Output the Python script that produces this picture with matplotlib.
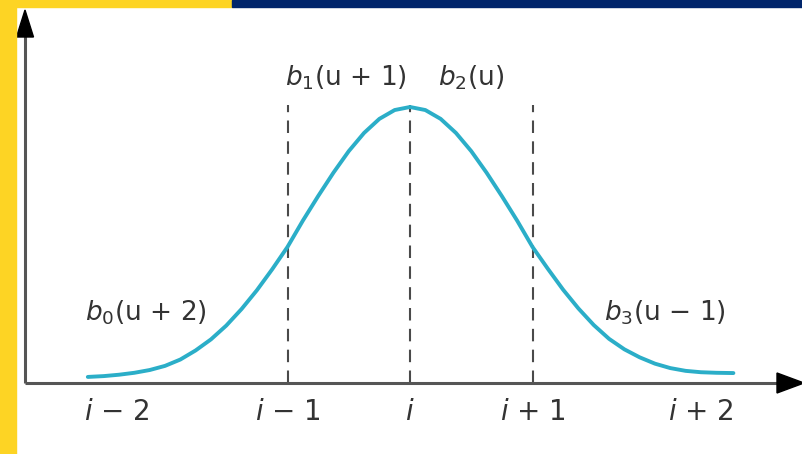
import matplotlib
matplotlib.use("Agg")
import matplotlib.pyplot as plt
from matplotlib.patches import Rectangle, Polygon

# Basis function sampled along the parameter axis (knot spacing = 1, peak = 1)
curve_x = [-2.63, -2.5, -2.375, -2.25, -2.125, -2.0, -1.875, -1.75, -1.625,
           -1.5, -1.375, -1.25, -1.125, -1.0, -0.875, -0.75, -0.625, -0.5,
           -0.375, -0.25, -0.125, 0.0, 0.125, 0.25, 0.375, 0.5, 0.625, 0.75,
           0.875, 1.0, 1.125, 1.25, 1.375, 1.5, 1.625, 1.75, 1.875, 2.0,
           2.125, 2.25, 2.375, 2.5, 2.64]
curve_y = [0.022, 0.025, 0.030, 0.037, 0.047, 0.062, 0.085, 0.118, 0.158,
           0.208, 0.268, 0.336, 0.412, 0.493, 0.588, 0.677, 0.762, 0.840,
           0.906, 0.957, 0.989, 1.000, 0.989, 0.957, 0.906, 0.840, 0.762,
           0.677, 0.588, 0.493, 0.414, 0.338, 0.270, 0.210, 0.160, 0.122,
           0.093, 0.070, 0.054, 0.044, 0.039, 0.037, 0.036]

# Knots drawn as dashed guides
knots = [-1.0, 0.0, 1.0]
guide_top = 1.007

# Axis labels
tick_pos = [-2.39, -1.0, 0.0, 1.0, 2.37]
tick_labels = [r"$i$ − 2", r"$i$ − 1", r"$i$", r"$i$ + 1", r"$i$ + 2"]

# Segment labels
seg_labels = [r"$b_0$(u + 2)", r"$b_1$(u + 1)", r"$b_2$(u)", r"$b_3$(u − 1)"]
seg_x = [-2.155, -0.52, 0.50, 2.08]
seg_y = [0.254, 1.105, 1.105, 0.254]

plt.rcParams["font.family"] = ["DejaVu Sans"]
plt.rcParams["mathtext.fontset"] = "dejavusans"

W, H = 802, 454
fig = plt.figure(figsize=(W / 100, H / 100), dpi=100)
fig.patch.set_facecolor("white")

# Frame decorations (in figure pixels, origin at top-left)
def px_rect(x0, y0, w, h, color):
    fig.patches.append(Rectangle((x0 / W, 1 - (y0 + h) / H), w / W, h / H,
                                 transform=fig.transFigure, color=color,
                                 zorder=10))

px_rect(0, 0, 16, H, "#FDD424")
px_rect(0, 0, 232, 7, "#FDD424")
px_rect(232, 0, W - 232, 7, "#00256B")

# Axes: y-axis at x=25px, x-axis at y=383px
ax_left, ax_right, ax_bottom, ax_top = 25, 802, 383, 10
ax = fig.add_axes([ax_left / W, 1 - ax_bottom / H,
                   (ax_right - ax_left) / W, (ax_bottom - ax_top) / H])
x0 = (ax_left - 410) / 122.5
x1 = (ax_right - 410) / 122.5
y1 = (ax_bottom - ax_top) / 276
ax.set_xlim(x0, x1)
ax.set_ylim(0, y1)
ax.set_facecolor("none")
for s in ax.spines.values():
    s.set_visible(False)
ax.set_yticks([])
ax.set_xticks(tick_pos)
ax.set_xticklabels(tick_labels, fontsize=20, color="#333333")
ax.tick_params(axis="x", length=0, pad=11)

# Axis lines
ax.plot([x0, x1 - 0.15], [0, 0], color="#555555", lw=2.2, clip_on=False,
        solid_capstyle="butt", zorder=2)
ax.plot([x0, x0], [0, y1 - 0.08], color="#555555", lw=2.2, clip_on=False,
        solid_capstyle="butt", zorder=2)

# Arrow heads (sizes in pixels converted to data units)
def dx(p):
    return p / 122.5

def dy(p):
    return p / 276

ax.add_patch(Polygon([[x0 - dx(8.5), y1 - dy(27)], [x0 + dx(8.5), y1 - dy(27)],
                      [x0, y1]], closed=True, color="black", clip_on=False,
                     zorder=3))
ax.add_patch(Polygon([[x1 - dx(25), dy(10)], [x1 - dx(25), -dy(10)],
                      [x1 + dx(2), 0]], closed=True, color="black",
                     clip_on=False, zorder=3))

# Dashed knot guides
ax.vlines(knots, 0, guide_top, colors="#4a4a4a", linestyles=(0, (6, 4)),
          lw=1.5, zorder=1)

# Basis curve
ax.plot(curve_x, curve_y, color="#2BAEC8", lw=2.8, solid_capstyle="round",
        solid_joinstyle="round", zorder=4)

for t, x, y in zip(seg_labels, seg_x, seg_y):
    ax.text(x, y, t, fontsize=19, color="#333333", ha="center", va="center")

fig.savefig("out.png", dpi=100, facecolor="white")
